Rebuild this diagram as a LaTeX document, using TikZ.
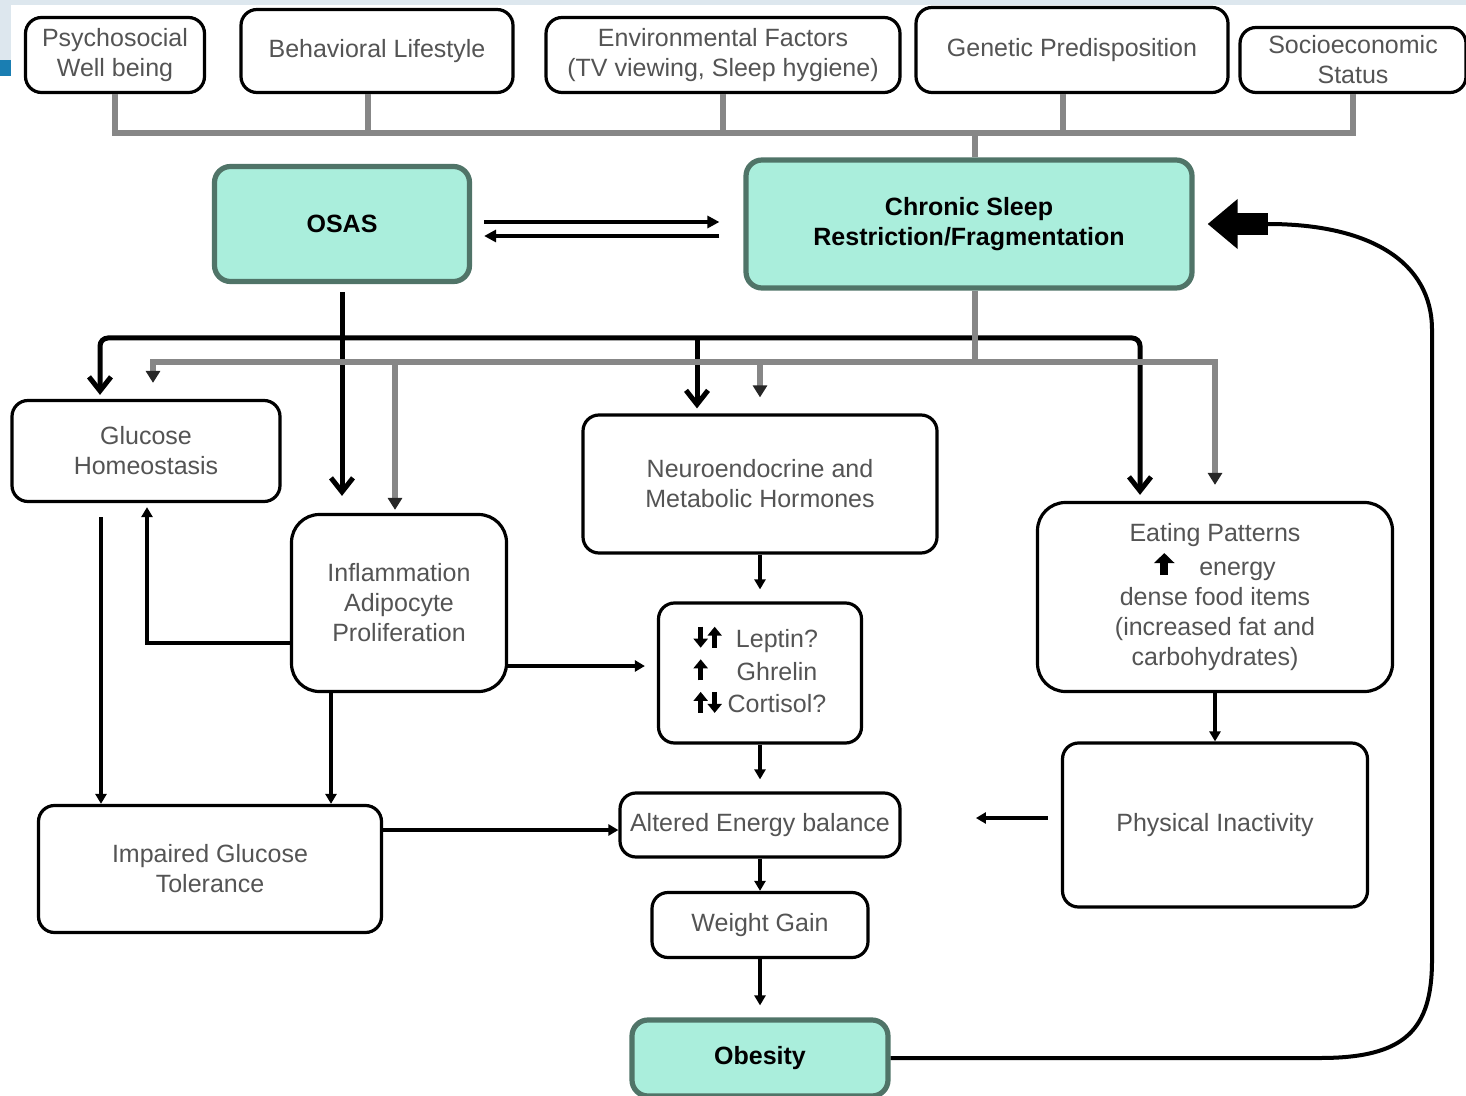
\documentclass[tikz,border=0pt]{standalone}
\usepackage{fontspec}
\setmainfont{Liberation Sans}
\usetikzlibrary{arrows.meta}

\definecolor{mintfill}{RGB}{170,238,220}
\definecolor{mintedge}{RGB}{80,116,104}
\definecolor{txtgray}{RGB}{84,84,84}
\definecolor{busgray}{RGB}{135,135,135}
\definecolor{bandblue}{RGB}{221,231,238}
\definecolor{tabblue}{RGB}{26,126,178}

% small block arrows used inside the text of two boxes
\newcommand{\arrup}{\tikz[baseline=0pt]\draw[black,line width=2.6pt,-{Triangle[length=4.5pt,width=7pt]}] (0pt,0pt) -- (0pt,10.5pt);}
\newcommand{\arrdn}{\tikz[baseline=0pt]\draw[black,line width=2.6pt,-{Triangle[length=4.5pt,width=7pt]}] (0pt,10.5pt) -- (0pt,0pt);}
\newcommand{\bigup}{\tikz[baseline=0pt]\draw[black,line width=4pt,-{Triangle[length=5pt,width=10pt]}] (0pt,0pt) -- (0pt,11pt);}

\tikzset{
  box/.style={draw=black, line width=1.6pt, rounded corners=8pt, fill=white,
    text=txtgray, align=center, inner sep=1pt, font=\fontsize{12.5}{15}\selectfont},
  keybox/.style={box, draw=mintedge, line width=2.6pt, fill=mintfill, text=black,
    font=\fontsize{12.5}{15}\selectfont\bfseries},
  wh/.style 2 args={minimum width=#1*0.5pt, minimum height=#2*0.5pt},
  graybus/.style={draw=busgray, line width=2.8pt},
  grayarr/.style={graybus, -{Triangle[length=6pt,width=7pt,color=black!85]}},
  heavy/.style={draw=black, line width=2.5pt, -{Straight Barb[length=7pt,width=11pt]}},
  link/.style={draw=black, line width=1.6pt, -{Triangle[length=5pt,width=5.5pt]}},
  pair/.style={draw=black, line width=2pt, -{Triangle[length=6pt,width=6pt]}}
}

\begin{document}
\begin{tikzpicture}[x=0.5pt,y=-0.5pt]

  \useasboundingbox (0,0) rectangle (1466,1096);

  % --- slide background strip ---
  \fill[bandblue] (0,0) rectangle (1466,5);
  \fill[bandblue] (0,0) rectangle (11,60);
  \fill[tabblue] (0,60) rectangle (11,76);

  % --- contributing factors (top row) ---
  \foreach \nm/\cx/\cy/\w/\h/\txt in {
    psy/115/55/179/75/{Psychosocial\\Well being},
    beh/377/51/272/83/{Behavioral Lifestyle},
    env/723/55/354/75/{Environmental Factors\\(TV viewing, Sleep hygiene)},
    gen/1072/50/312/85/{Genetic Predisposition},
    ses/1353/60/226/65/{Socioeconomic\\Status}}
    \node[box, wh={\w}{\h}] (\nm) at (\cx,\cy) {\txt};

  % --- key conditions ---
  \node[keybox, wh={255}{115}] (osas) at (342,224) {OSAS};
  \node[keybox, wh={446}{128}] (sleep) at (969,224) {Chronic Sleep\\Restriction/Fragmentation};
  \node[keybox, wh={256}{76}] (obes) at (760,1058) {Obesity};

  % --- mechanisms ---
  \node[box, wh={268}{101}] (glu) at (146,451) {Glucose\\Homeostasis};
  \node[box, wh={215}{177}, rounded corners=14pt] (infl) at (399,603) {Inflammation\\Adipocyte\\Proliferation};
  \node[box, wh={354}{138}] (neuro) at (760,484) {Neuroendocrine and\\Metabolic Hormones};
  \node[box, wh={203}{140}] (horm) at (760,673)
    {\begin{tabular}{@{}l@{\hspace{3pt}}c@{}}
       \arrdn\arrup & Leptin?\\
       \arrup & Ghrelin\\
       \arrup\arrdn & Cortisol?
     \end{tabular}};
  \node[box, wh={355}{189}, rounded corners=14pt] (eat) at (1215,597)
    {Eating Patterns\\\bigup\quad energy\\dense food items\\(increased fat and\\carbohydrates)};
  \node[box, wh={305}{164}] (inact) at (1215,825) {Physical Inactivity};
  \node[box, wh={343}{127}] (igt) at (210,869) {Impaired Glucose\\Tolerance};
  \node[box, wh={280}{64}] (energy) at (760,825) {Altered Energy balance};
  \node[box, wh={216}{65}] (gain) at (760,925) {Weight Gain};

  % --- gray bus from the factors into sleep restriction ---
  \coordinate (fbus) at (0,133);
  \draw[graybus] (psy.south) |- (ses.south |- fbus) -- (ses.south);
  \draw[graybus] ([xshift=-4.5pt]beh.south) -- ([xshift=-4.5pt]beh.south |- fbus);
  \draw[graybus] (env.south) -- (env.south |- fbus);
  \draw[graybus] ([xshift=-4.5pt]gen.south) -- ([xshift=-4.5pt]gen.south |- fbus);
  \draw[graybus] ([xshift=3pt]sleep.north |- fbus) -- ([xshift=3pt]sleep.north);

  % --- OSAS <-> sleep restriction ---
  \draw[pair] ([xshift=6pt,yshift=1pt]osas.east) -- ([xshift=-12pt,yshift=1pt]sleep.west);
  \draw[pair] ([xshift=-12pt,yshift=-6pt]sleep.west) -- ([xshift=6pt,yshift=-6pt]osas.east);

  % --- black bus from OSAS ---
  \coordinate (kbus) at (0,338);
  \draw[heavy] ([yshift=-4pt]osas.south) -- ([yshift=8.5pt]osas.south |- infl.north);
  \draw[heavy, rounded corners=4pt] (osas.south |- kbus) -| ([xshift=-23pt,yshift=2pt]glu.north);
  \draw[heavy, rounded corners=4pt] (osas.south |- kbus) -| ([xshift=-37.5pt,yshift=3pt]eat.north);
  \draw[heavy] ([xshift=-31.5pt]neuro.north |- kbus) -- ([xshift=-31.5pt,yshift=2.5pt]neuro.north);

  % --- gray bus from sleep restriction ---
  \coordinate (gbus) at (0,362);
  \draw[graybus] ([xshift=3pt]sleep.south) -- ([xshift=3pt]sleep.south |- gbus);
  \draw[grayarr] ([xshift=3pt]sleep.south |- gbus) -| ([xshift=3.5pt,yshift=8pt]glu.north);
  \draw[grayarr] ([xshift=3pt]sleep.south |- gbus) -| ([yshift=8pt]eat.north);
  \draw[grayarr] ([xshift=-2pt]infl.north |- gbus) -- ([xshift=-2pt,yshift=1.5pt]infl.north);
  \draw[grayarr] (neuro.north |- gbus) -- ([yshift=8pt]neuro.north);

  % --- thin links between mechanisms ---
  \draw[link] ([xshift=-22.5pt,yshift=-7pt]glu.south) -- ([xshift=-22.5pt]glu.south |- igt.north);
  \draw[link] ([yshift=-20pt]infl.west) -| ([xshift=0.5pt,yshift=-2pt]glu.south);
  \draw[link] ([xshift=-34pt]infl.south) -- ([xshift=-34pt]infl.south |- igt.north);
  \draw[link] ([yshift=-31.5pt]infl.east) -- ([xshift=-6pt,yshift=-31.5pt]infl.east -| horm.west);
  \draw[link] (neuro.south) -- ([yshift=6pt]horm.north);
  \draw[link] (horm.south) -- ([yshift=6pt]energy.north);
  \draw[link] ([yshift=19.5pt]igt.east) -- ([yshift=19.5pt]igt.east -| energy.west);
  \draw[link] ([xshift=-6.5pt,yshift=3.5pt]inact.west) -- ++(-72,0);
  \draw[link] (eat.south) -- (inact.north);
  \draw[link] (energy.south) -- (gain.north);
  \draw[link] (gain.south) -- ([yshift=6pt]obes.north);

  % --- feedback from obesity back to sleep restriction ---
  \coordinate (fbtail) at ([xshift=36.5pt]sleep.east);
  \draw[line width=2pt] (obes.east) -- (1320,1058)
    .. controls (1405,1058) and (1432,1030) .. (1432,960) -- (1432,330)
    .. controls (1432,262) and (1370,224) .. (fbtail);
  \draw[line width=11pt, -{Triangle[length=15pt,width=24pt]}] (fbtail) -- ([xshift=6.5pt]sleep.east);

\end{tikzpicture}
\end{document}
